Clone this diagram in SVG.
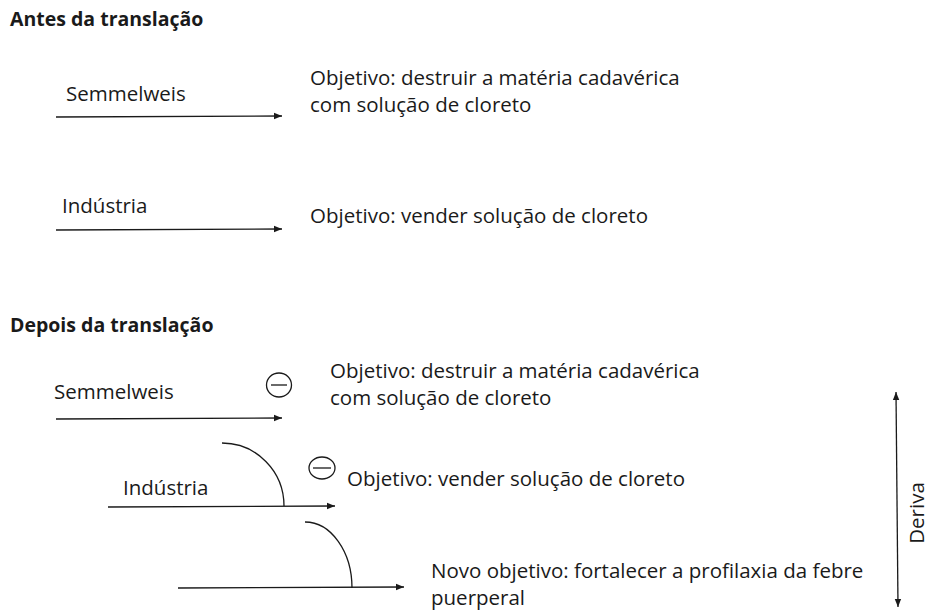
<svg xmlns="http://www.w3.org/2000/svg" width="928" height="610" viewBox="0 0 928 610">
<style>
text{font-family:"Open Sans","Liberation Sans",sans-serif;fill:#1a1a1a;font-size:20.5px}
.t{font-weight:bold;font-size:19.5px}
.l{stroke:#1a1a1a;stroke-width:1.3;fill:none}
</style>
<defs>
<marker id="ah" viewBox="0 0 10 10" refX="10" refY="5" markerWidth="8" markerHeight="8" markerUnits="userSpaceOnUse" orient="auto-start-reverse">
<path d="M0,1 L10,5 L0,9 z" fill="#1a1a1a"/>
</marker>
</defs>
<rect width="928" height="610" fill="#fff"/>
<text class="t" x="10" y="26">Antes da translação</text>
<text class="t" x="10" y="332">Depois da translação</text>

<g id="conectores">
<line class="l" x1="56" y1="117" x2="282" y2="116" marker-end="url(#ah)"/>
<line class="l" x1="56" y1="230" x2="282" y2="229" marker-end="url(#ah)"/>
<line class="l" x1="56" y1="419" x2="282" y2="418" marker-end="url(#ah)"/>
<line class="l" x1="108" y1="507" x2="335" y2="506" marker-end="url(#ah)"/>
<line class="l" x1="178" y1="588" x2="404" y2="587" marker-end="url(#ah)"/>
<line class="l" x1="896" y1="392" x2="898" y2="607" marker-start="url(#ah)" marker-end="url(#ah)"/>
<path class="l" d="M222,443 A62,63 0 0 1 284,506"/>
<path class="l" d="M305,522 A47,66 0 0 1 352,588"/>
</g>

<g id="antes-semmelweis">
<text x="66" y="101">Semmelweis</text>
<text x="310" y="85">Objetivo: destruir a matéria cadavérica</text>
<text x="310" y="112">com solução de cloreto</text>
</g>
<g id="antes-industria">
<text x="62" y="213">Indústria</text>
<text x="310" y="223">Objetivo: vender solução de cloreto</text>
</g>
<g id="depois-semmelweis">
<text x="54" y="399">Semmelweis</text>
<ellipse class="l" cx="279" cy="385" rx="12.5" ry="12"/>
<line class="l" x1="271" y1="385" x2="287" y2="385"/>
<text x="330" y="378">Objetivo: destruir a matéria cadavérica</text>
<text x="330" y="405">com solução de cloreto</text>
</g>
<g id="depois-industria">
<text x="123" y="495">Indústria</text>
<ellipse class="l" cx="322" cy="468" rx="13" ry="11"/>
<line class="l" x1="313" y1="468" x2="331" y2="468"/>
<text x="347" y="486">Objetivo: vender solução de cloreto</text>
</g>
<g id="novo-objetivo">
<text x="431" y="578">Novo objetivo: fortalecer a profilaxia da febre</text>
<text x="431" y="605">puerperal</text>
</g>
<g id="deriva">
<text transform="translate(924,513) rotate(-90)" text-anchor="middle">Deriva</text>
</g>
</svg>
